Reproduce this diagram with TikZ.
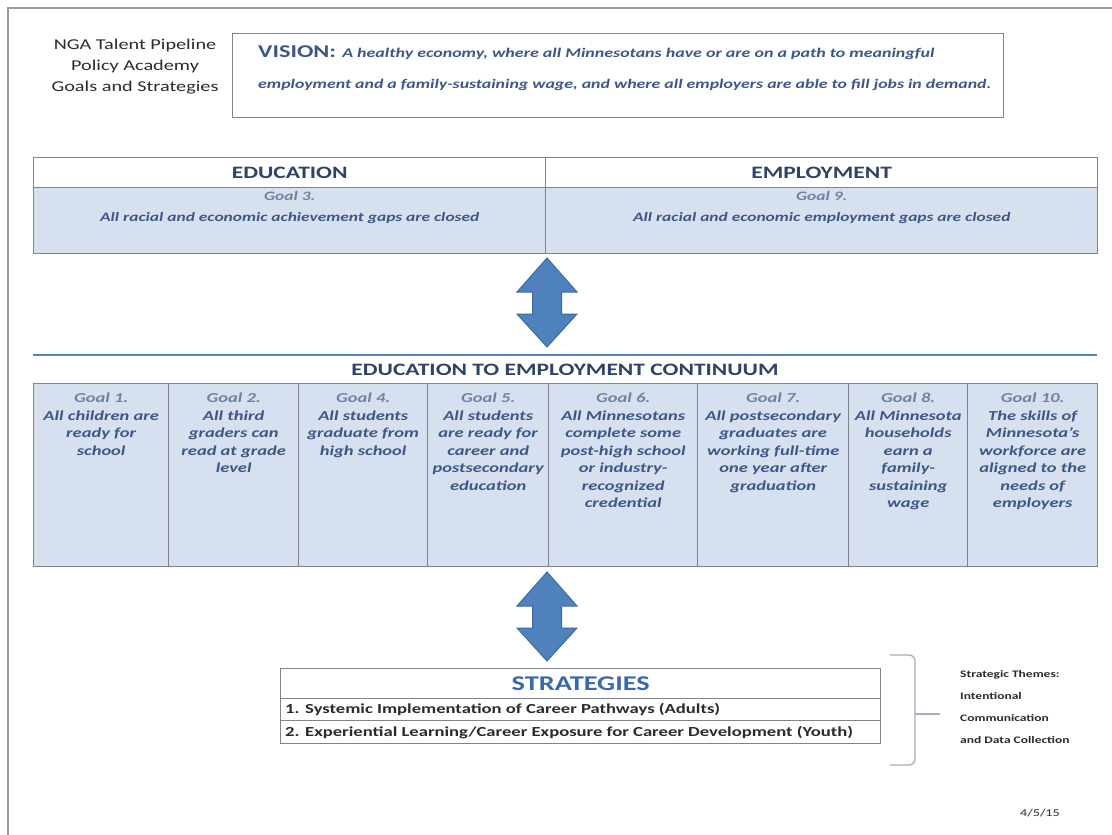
\documentclass[tikz,border=0pt]{standalone}
\usepackage{fontspec}
\setmainfont[FakeStretch=1.35]{Carlito}
\definecolor{goalfill}{HTML}{D6E0EE}
\definecolor{gridline}{HTML}{7E848C}
\definecolor{headnavy}{HTML}{2E4466}
\definecolor{goalblue}{HTML}{3D5788}
\definecolor{goalgray}{HTML}{6F82A3}
\definecolor{arrowblue}{HTML}{4F81BD}
\definecolor{arrowedge}{HTML}{3E6AA0}
\definecolor{stratblue}{HTML}{3A68A8}
\definecolor{bracegray}{HTML}{A7AEBA}
\definecolor{pagegray}{HTML}{9A9A9A}
\definecolor{inkgray}{HTML}{2B2B2B}

\begin{document}
\begin{tikzpicture}[x=1pt,y=-1pt,
  cell/.style={draw=gridline, line width=1.4pt, inner sep=0pt, anchor=north west},
  goalcell/.style={cell, fill=goalfill},
  headtext/.style={font=\fontsize{17.4}{20}\selectfont\bfseries, text=headnavy, inner sep=0pt},
  goaltext/.style={font=\fontsize{13.7}{17.5}\selectfont\bfseries\itshape, text=goalblue,
                   align=center, inner sep=0pt, anchor=north},
  widegoal/.style={goaltext, font=\fontsize{12.9}{17.5}\selectfont\bfseries\itshape},
  rowtext/.style={font=\fontsize{13.8}{16}\selectfont\bfseries, text=inkgray, inner sep=0pt, anchor=west},
  dblarrow/.pic={
    \filldraw[fill=arrowblue, draw=arrowedge, line width=1pt, line join=miter]
      (0,0) -- (30,34) -- (14.5,34) -- (14.5,56) -- (30,56) -- (0,89)
      -- (-30,56) -- (-14.5,56) -- (-14.5,34) -- (-30,34) -- cycle;
  }
]
\useasboundingbox (0,0) rectangle (1112,835);
\fill[white] (0,0) rectangle (1112,835);

% page edge
\draw[pagegray, line width=1.5pt] (8,835) -- (8,8) -- (1112,8);

% title block
\node[font=\fontsize{15}{21}\selectfont, text=inkgray, align=center, inner sep=0pt]
  (title) at (135,67) {NGA Talent Pipeline\\Policy Academy\\Goals and Strategies};

% vision statement
\node[cell, minimum width=771, minimum height=84] (vision) at (232,33) {};
\node[inner sep=0pt, anchor=west, text=goalblue] (vis1) at (258,53)
  {{\fontsize{18}{20}\selectfont\bfseries VISION:}\ \ {\fontsize{13.3}{17}\selectfont\bfseries\itshape A healthy economy, where all Minnesotans have or are on a path to meaningful}};
\node[inner sep=0pt, anchor=west, text=goalblue, font=\fontsize{13.2}{17}\selectfont\bfseries\itshape] (vis2) at (258,85)
  {employment and a family-sustaining wage, and where all employers are able to fill jobs in demand.};

% education / employment goals
\node[cell, minimum width=512, minimum height=30] (eduhead) at (33,157) {};
\node[cell, minimum width=552, minimum height=30] (emphead) at (545,157) {};
\node[goalcell, minimum width=512, minimum height=66] (edugoal) at (33,187) {};
\node[goalcell, minimum width=552, minimum height=66] (empgoal) at (545,187) {};
\node[headtext] (edulbl) at (eduhead.center) {EDUCATION};
\node[headtext] (emplbl) at (emphead.center) {EMPLOYMENT};
\node[widegoal] (g3) at ([yshift=-4pt]edugoal.north) {{\color{goalgray}Goal 3.}\\[4pt]All racial and economic achievement gaps are closed};
\node[widegoal] (g9) at ([yshift=-4pt]empgoal.north) {{\color{goalgray}Goal 9.}\\[4pt]All racial and economic employment gaps are closed};

% upper two-way arrow
\pic at (547,258) {dblarrow};

% continuum rule and heading
\coordinate (ruleL) at (33,355);
\coordinate (ruleR) at (1097,355);
\draw[arrowblue, line width=2.5pt] (ruleL) -- (ruleR);
\node[headtext] (contlbl) at (565,370) {EDUCATION TO EMPLOYMENT CONTINUUM};

% continuum goal columns
\node[goalcell, minimum width=135, minimum height=183] (c1) at (33,383) {};
\node[goalcell, minimum width=130, minimum height=183] (c2) at (168,383) {};
\node[goalcell, minimum width=129, minimum height=183] (c3) at (298,383) {};
\node[goalcell, minimum width=121, minimum height=183] (c4) at (427,383) {};
\node[goalcell, minimum width=149, minimum height=183] (c5) at (548,383) {};
\node[goalcell, minimum width=151, minimum height=183] (c6) at (697,383) {};
\node[goalcell, minimum width=119, minimum height=183] (c7) at (848,383) {};
\node[goalcell, minimum width=130, minimum height=183] (c8) at (967,383) {};

\node[goaltext] (t1) at ([yshift=-10pt]c1.north) {{\color{goalgray}Goal 1.}\\All children are\\ready for\\school};
\node[goaltext] (t2) at ([yshift=-10pt]c2.north) {{\color{goalgray}Goal 2.}\\All third\\graders can\\read at grade\\level};
\node[goaltext] (t3) at ([yshift=-10pt]c3.north) {{\color{goalgray}Goal 4.}\\All students\\graduate from\\high school};
\node[goaltext] (t4) at ([yshift=-10pt]c4.north) {{\color{goalgray}Goal 5.}\\All students\\are ready for\\career and\\postsecondary\\education};
\node[goaltext] (t5) at ([yshift=-10pt]c5.north) {{\color{goalgray}Goal 6.}\\All Minnesotans\\complete some\\post-high school\\or industry-\\recognized\\credential};
\node[goaltext] (t6) at ([yshift=-10pt]c6.north) {{\color{goalgray}Goal 7.}\\All postsecondary\\graduates are\\working full-time\\one year after\\graduation};
\node[goaltext] (t7) at ([yshift=-10pt]c7.north) {{\color{goalgray}Goal 8.}\\All Minnesota\\households\\earn a\\family-\\sustaining\\wage};
\node[goaltext] (t8) at ([yshift=-10pt]c8.north) {{\color{goalgray}Goal 10.}\\The skills of\\Minnesota's\\workforce are\\aligned to the\\needs of\\employers};

% lower two-way arrow
\pic at (547,572) {dblarrow};

% strategies table
\node[cell, minimum width=600, minimum height=30] (strathead) at (280,668) {};
\node[cell, minimum width=600, minimum height=22] (strat1) at (280,698) {};
\node[cell, minimum width=600, minimum height=23] (strat2) at (280,720) {};
\node[font=\fontsize{21}{23}\selectfont\bfseries, text=stratblue, inner sep=0pt] (stratlbl) at (strathead.center) {STRATEGIES};
\node[rowtext] (s1) at ([xshift=5pt]strat1.west) {1. Systemic Implementation of Career Pathways (Adults)};
\node[rowtext] (s2) at ([xshift=5pt]strat2.west) {2. Experiential Learning/Career Exposure for Career Development (Youth)};

% bracket gathering the strategies
\draw[bracegray, line width=1.3pt, rounded corners=6pt] (890,655) -- (915,655) -- (915,765) -- (890,765);
\draw[bracegray, line width=1.3pt] (915,714) -- (940,714);

% strategic themes
\node[font=\fontsize{10}{22}\selectfont\bfseries, text=inkgray, align=left, inner sep=0pt, anchor=north west]
  (themes) at (960,670) {Strategic Themes:\\Intentional\\Communication\\and Data Collection};

% date
\node[font=\fontsize{10.5}{13}\selectfont, text=inkgray, inner sep=0pt] (date) at (1040,813) {4/5/15};
\end{tikzpicture}
\end{document}
